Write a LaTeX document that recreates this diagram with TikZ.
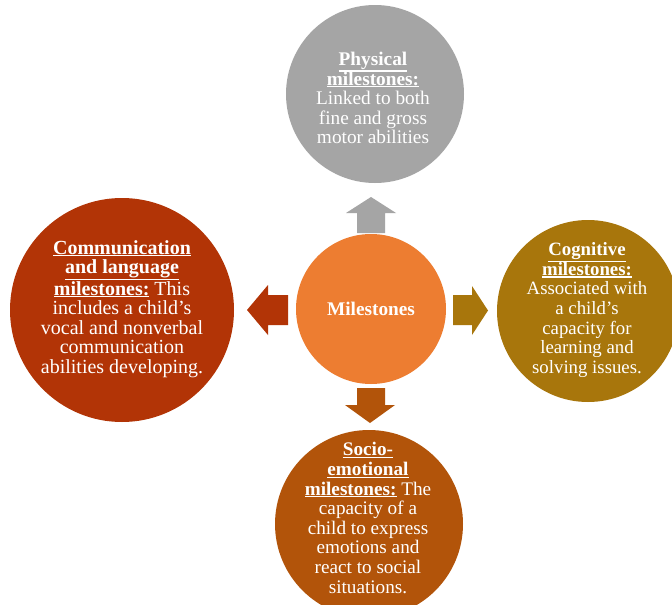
\documentclass[tikz,border=0pt]{standalone}
\usepackage{fontspec}
\setmainfont{Liberation Serif}

\definecolor{physgray}{HTML}{A5A5A5}
\definecolor{hubor}{HTML}{ED7D31}
\definecolor{commred}{RGB}{178,52,6}
\definecolor{coggold}{RGB}{168,118,12}
\definecolor{sociobrown}{RGB}{178,84,10}

\tikzset{
  disc/.style={circle, inner sep=0pt, draw=none},
  blurb/.style={align=center, text=white, inner sep=0pt},
  fs/.style={font=\fontsize{#1}{19.6}\selectfont},
  fsb/.style={font=\fontsize{#1}{19.6}\selectfont\bfseries}
}
% bold, underlined heading word
\newsavebox{\hdbox}
\newcommand{\hd}[1]{{\bfseries\sbox{\hdbox}{#1}%
  \rlap{\rule[\dimexpr-\dp\hdbox-2pt\relax]{\wd\hdbox}{1.1pt}}\usebox{\hdbox}}}

\begin{document}
\begin{tikzpicture}[x=1pt,y=-1pt]
  \useasboundingbox (0,0) rectangle (672,605);
  \fill[white] (0,0) rectangle (672,605);
  \clip (0,0) rectangle (672,605);

  % circles
  \node[disc, fill=physgray,   minimum size=178pt] (phys)  at (375,94)  {};
  \node[disc, fill=commred,    minimum size=224pt] (comm)  at (122,310) {};
  \node[disc, fill=coggold,    minimum size=182pt] (cog)   at (588,311) {};
  \node[disc, fill=sociobrown, minimum size=188pt] (socio) at (369,524) {};
  \node[disc, fill=hubor,      minimum size=150pt] (hub)   at (371,309) {};

  % block arrows from the hub out to each circle
  \fill[physgray]   (357,233) -- (357,213) -- (346,213) -- (371,197)
                    -- (396,213) -- (385,213) -- (385,233) -- cycle;
  \fill[commred]    (288,295) -- (268,295) -- (268,285) -- (247,310)
                    -- (268,335) -- (268,325) -- (288,325) -- cycle;
  \fill[coggold]    (453,295) -- (472,295) -- (472,286) -- (488,310.5)
                    -- (472,335) -- (472,325) -- (453,325) -- cycle;
  \fill[sociobrown] (357,388) -- (357,405) -- (345,405) -- (370,423)
                    -- (395,405) -- (385,405) -- (385,388) -- cycle;

  % texts
  \node[blurb, fsb=19.3] (thub) at (hub) {Milestones};
  \node[blurb, fs=19.3] (tphys) at (373,98) {\hd{Physical}\\\hd{milestones:}\\Linked to both\\fine and gross\\motor abilities};
  \node[blurb, fs=20] (tcomm) at (122,309) {\hd{Communication}\\\hd{and language}\\\hd{milestones:} This\\includes a child’s\\vocal and nonverbal\\communication\\abilities developing.};
  \node[blurb, fs=18.8] (tcog) at (587,310) {\hd{Cognitive}\\\hd{milestones:}\\Associated with\\a child’s\\capacity for\\learning and\\solving issues.};
  \node[blurb, fs=19.2] (tsocio) at (368,518) {\hd{Socio-}\\\hd{emotional}\\\hd{milestones:} The\\capacity of a\\child to express\\emotions and\\react to social\\situations.};
\end{tikzpicture}
\end{document}
